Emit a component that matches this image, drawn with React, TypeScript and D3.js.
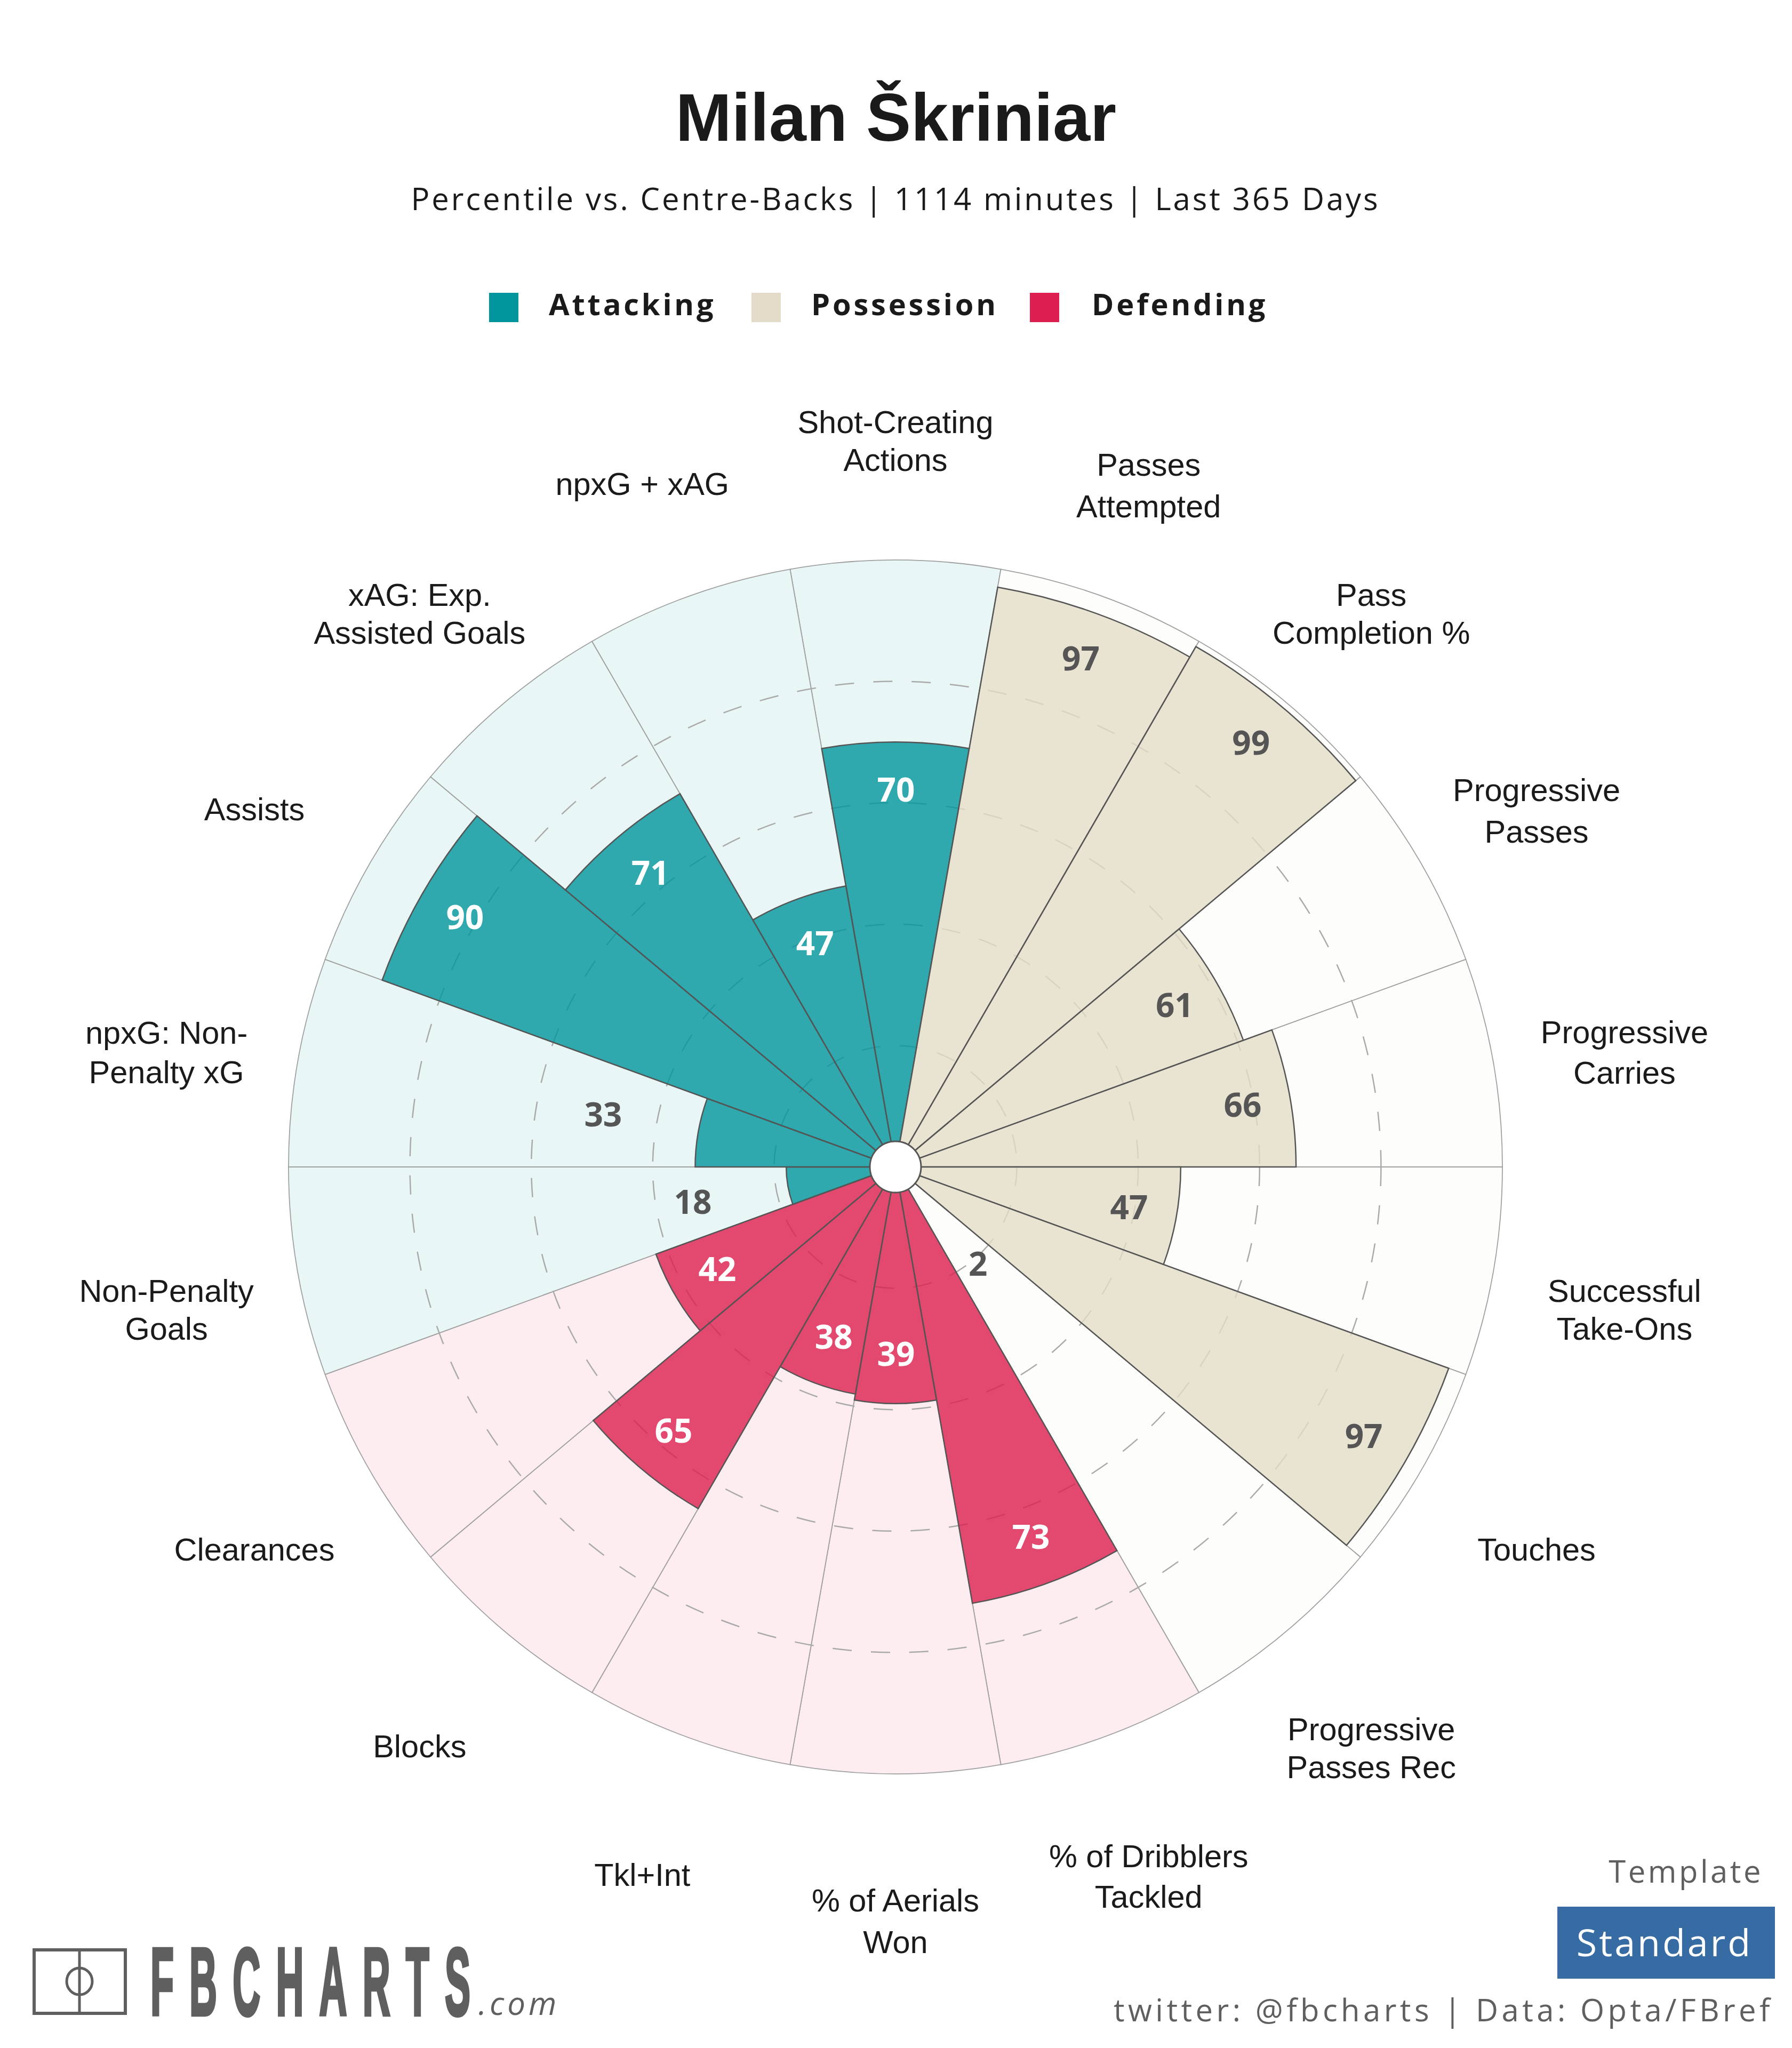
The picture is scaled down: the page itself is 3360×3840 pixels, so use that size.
import React from 'react';
import * as d3 from 'd3';

const metrics = [
  ['Shot-Creating', 'Actions'], ['Passes', 'Attempted'], ['Pass', 'Completion %'],
  ['Progressive', 'Passes'], ['Progressive', 'Carries'], ['Successful', 'Take-Ons'],
  ['Touches'], ['Progressive', 'Passes Rec'], ['% of Dribblers', 'Tackled'],
  ['% of Aerials', 'Won'], ['Tkl+Int'], ['Blocks'], ['Clearances'],
  ['Non-Penalty', 'Goals'], ['npxG: Non-', 'Penalty xG'], ['Assists'],
  ['xAG: Exp.', 'Assisted Goals'], ['npxG + xAG'],
];
const percentiles = [70, 97, 99, 61, 66, 47, 97, 2, 73, 39, 38, 65, 42, 18, 33, 90, 71, 47];
const groups = ['Attacking', 'Possession', 'Possession', 'Possession', 'Possession', 'Possession',
  'Possession', 'Possession', 'Defending', 'Defending', 'Defending', 'Defending', 'Defending',
  'Attacking', 'Attacking', 'Attacking', 'Attacking', 'Attacking'];
const legendNames = ['Attacking', 'Possession', 'Defending'];
const ringTicks = [20, 40, 60, 80];
// the source's line spacing changes a little from label to label
const lineGaps = [71, 78, 71, 78, 76, 71, 0, 71, 76, 78, 0, 0, 0, 71, 74, 0, 71, 0];

const fills: Record<string, string> = { Attacking: '#00959c', Possession: '#e4dcc8', Defending: '#dc1f4e' };
const tints: Record<string, string> = { Attacking: '#e9f6f6', Possession: '#fdfdfb', Defending: '#fdecf0' };

const cx = 1679;
const cy = 2188;
const r = d3.scaleLinear().domain([0, 100]).range([0, 1138]);
const step = (2 * Math.PI) / percentiles.length;
const sans = '"Liberation Sans", Arial, sans-serif';
const human = '"Open Sans", sans-serif';
const grey = '#5f5f5f';

// values sit inside the bar unless the bar is too short
const valueRadius = (v: number) => (v < 10 ? v + 19 : v < 35 ? v + 16 : v - 8);
const polar = (radius: number, angle: number): [number, number] => [
  radius * Math.sin(angle),
  -radius * Math.cos(angle),
];

export default function App() {
  const arc = d3.arc<any>();
  return (
    <svg width={3360} height={3840} viewBox="0 0 3360 3840"
      style={{ position: 'absolute', left: 0, top: 0, background: '#fff' }}>
      <text x={1680} y={264} textAnchor="middle" fontFamily={sans} fontWeight="bold" fontSize={126} fill="#1a1a1a">
        Milan Škriniar
      </text>
      <text x={1679} y={394} textAnchor="middle" fontFamily={human} fontSize={58} letterSpacing={3.9} fill="#1a1a1a">
        Percentile vs. Centre-Backs | 1114 minutes | Last 365 Days
      </text>

      {legendNames.map((name, i) => {
        const sx = [917, 1409, 1931][i];
        const tx = [1029, 1521, 2047][i];
        return (
          <g key={name}>
            <rect x={sx} y={549} width={55} height={55} fill={fills[name]} />
            <text x={tx} y={591} fontFamily={human} fontWeight="bold" fontSize={56} letterSpacing={4.8} fill="#1a1a1a">
              {name}
            </text>
          </g>
        );
      })}

      <g transform={`translate(${cx},${cy})`}>
        {percentiles.map((_, i) => (
          <path key={i}
            d={arc({ innerRadius: 0, outerRadius: r(100), startAngle: i * step - step / 2, endAngle: i * step + step / 2 }) as string}
            fill={tints[groups[i]]} stroke="#a0a0a0" strokeWidth={1.8} />
        ))}
        {ringTicks.map(t => (
          <circle key={t} r={r(t)} fill="none" stroke="#aaaaaa" strokeWidth={2.5} strokeDasharray="36 36" />
        ))}
        {percentiles.map((v, i) => (
          <path key={i}
            d={arc({ innerRadius: 0, outerRadius: r(v), startAngle: i * step - step / 2, endAngle: i * step + step / 2 }) as string}
            fill={fills[groups[i]]} fillOpacity={0.8} stroke="#555555" strokeWidth={2.5} />
        ))}
        <circle r={48} fill="#fff" stroke="#555555" strokeWidth={3} />
        {percentiles.map((v, i) => {
          const [x, y] = polar(r(valueRadius(v)), i * step);
          const inside = v >= 35 && groups[i] !== 'Possession';
          return (
            <text key={i} x={x + 1} y={y} dy="0.33em" textAnchor="middle" fontFamily={human} fontWeight="bold"
              fontSize={62} fill={inside ? '#fff' : '#555555'}>
              {v}
            </text>
          );
        })}
        {metrics.map((lines, i) => {
          const [x, y] = polar(1388, i * step);
          const shift = lines.length === 1 ? 44 : 47;
          return (
            <text key={i} textAnchor="middle" fontFamily={sans} fontSize={59.5} fill="#1a1a1a">
              {lines.map((line, j) => (
                <tspan key={j} x={x} y={y + (j - (lines.length - 1) / 2) * lineGaps[i] + shift}>{line}</tspan>
              ))}
            </text>
          );
        })}
      </g>

      {/* logo */}
      <g stroke={grey} fill="none">
        <rect x={64} y={3656} width={171} height={119} strokeWidth={6} />
        <line x1={149} x2={149} y1={3656} y2={3775} strokeWidth={5} />
        <ellipse cx={149} cy={3715} rx={24} ry={25} strokeWidth={5} />
      </g>
      <text transform="translate(282,3778) scale(1,2.5)" fontFamily={sans} fontWeight="bold" fontSize={72}
        stroke={grey} strokeWidth={2.5} fill={grey} textLength={600}>
        FBCHARTS
      </text>
      <text x={897} y={3778} fontFamily={human} fontStyle="italic" fontSize={60} letterSpacing={6} fill={grey}>.com</text>

      <text x={3306} y={3530} textAnchor="end" fontFamily={human} fontSize={58} letterSpacing={4.5} fill={grey}>Template</text>
      <rect x={2920} y={3575} width={408} height={135} fill="#366ba3" />
      <text x={3121} y={3668} textAnchor="middle" fontFamily={human} fontSize={70} letterSpacing={4} fill="#fff">Standard</text>
      <text x={3325} y={3790} textAnchor="end" fontFamily={human} fontSize={58} letterSpacing={6.4} fill={grey}>
        twitter: @fbcharts | Data: Opta/FBref
      </text>
    </svg>
  );
}
